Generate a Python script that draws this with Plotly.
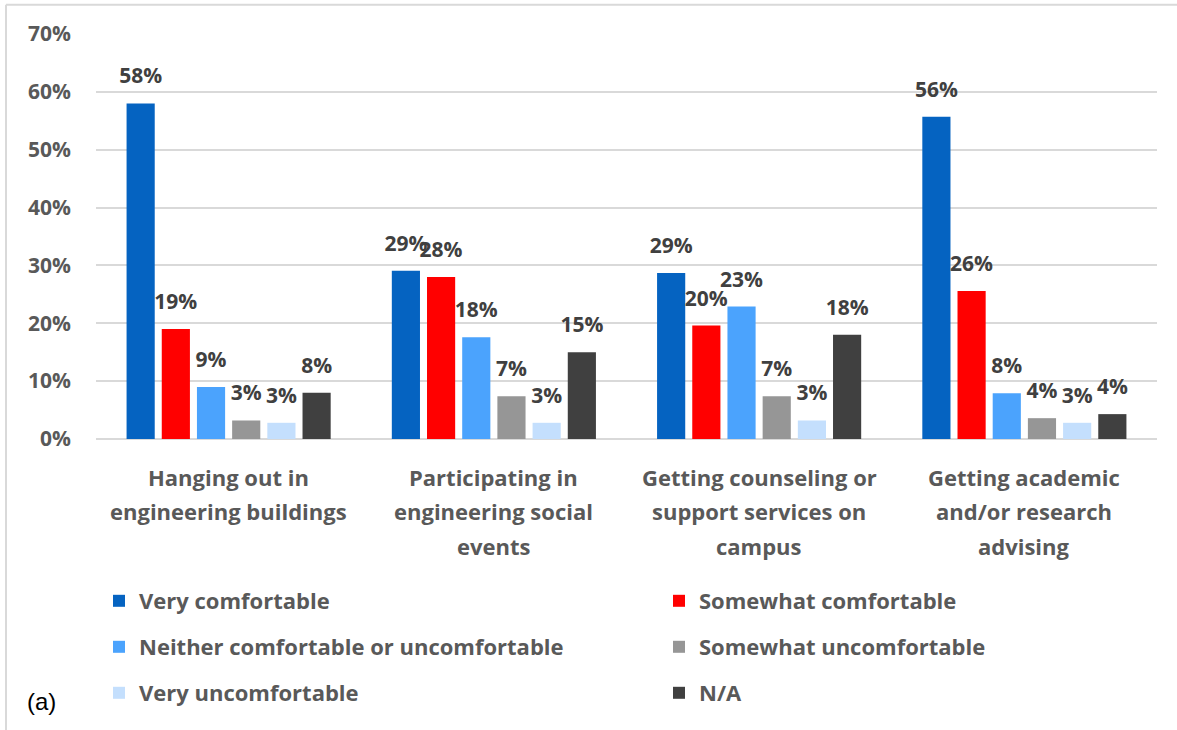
import plotly.graph_objects as go

categories = [
    "Hanging out in engineering buildings",
    "Participating in engineering social events",
    "Getting counseling or support services on campus",
    "Getting academic and/or research advising",
]
category_lines = [
    ["Hanging out in", "engineering buildings"],
    ["Participating in", "engineering social", "events"],
    ["Getting counseling or", "support services on", "campus"],
    ["Getting academic", "and/or research", "advising"],
]
series_names = [
    "Very comfortable",
    "Somewhat comfortable",
    "Neither comfortable or uncomfortable",
    "Somewhat uncomfortable",
    "Very uncomfortable",
    "N/A",
]
very_comfortable = [58.0, 29.1, 28.7, 55.7]
somewhat_comfortable = [19.0, 28.0, 19.6, 25.6]
neither = [9.0, 17.6, 22.9, 7.9]
somewhat_uncomfortable = [3.2, 7.4, 7.4, 3.6]
very_uncomfortable = [2.8, 2.8, 3.2, 2.8]
not_applicable = [8.0, 15.0, 18.0, 4.3]
series_values = [very_comfortable, somewhat_comfortable, neither,
                 somewhat_uncomfortable, very_uncomfortable, not_applicable]
colors = ["#0563C1", "#FF0000", "#4BA3FD", "#969696", "#C4DFFD", "#404040"]

FONT = "Open Sans"
WEIGHT = "bold"
W, H = 1177, 730
L, R, T, B = 96, 20, 34.3, 290.7
PW, PH = W - L - R, H - T - B

fig = go.Figure()
for i, (name, vals, col) in enumerate(zip(series_names, series_values, colors)):
    fig.add_trace(go.Bar(
        x=categories, y=vals, name=name, marker_color=col,
        marker_line_width=0,
        legend="legend" if i == 0 else f"legend{i+1}",
        hoverinfo="skip",
    ))
for i, vals in enumerate(series_values):
    fig.add_trace(go.Scatter(
        x=categories, y=vals, mode="markers+text",
        marker=dict(size=22, color="rgba(0,0,0,0)"),
        texttemplate="%{y:.0f}%", textposition="top center",
        textfont=dict(family=FONT, size=21, color="#404040", weight=WEIGHT),
        showlegend=False, cliponaxis=False, hoverinfo="skip",
    ))

# legends: one per entry, 2 columns x 3 rows
col_x = [99, 659]
row_y = [601, 647, 693]
legends = {}
for i in range(6):
    key = "legend" if i == 0 else f"legend{i+1}"
    legends[key] = dict(
        xref="container", yref="container",
        x=col_x[i % 2] / W, y=1 - row_y[i // 2] / H,
        xanchor="left", yanchor="middle", orientation="h",
        bgcolor="rgba(0,0,0,0)", borderwidth=0,
        font=dict(family=FONT, size=22, color="#595959", weight=WEIGHT),
    )

annotations = []
for cat, lines in zip(categories, category_lines):
    for j, line in enumerate(lines):
        annotations.append(dict(
            x=cat, xref="x", y=0, yref="paper", yanchor="middle",
            yshift=-(37.7 + 34.5 * j), text=line, showarrow=False,
            font=dict(family=FONT, size=22, color="#595959", weight=WEIGHT),
        ))
annotations.append(dict(
    x=(41 - L) / PW, xref="paper", y=(H - B - 702) / PH, yref="paper",
    xanchor="center", yanchor="middle", text="(a)", showarrow=False,
    font=dict(family="Liberation Sans", size=24, color="#000000"),
))

px_x = lambda p: (p - L) / PW
px_y = lambda p: (H - B - p) / PH
shapes = [
    dict(type="line", xref="paper", yref="paper", x0=px_x(6), x1=px_x(1180),
         y0=px_y(5), y1=px_y(5), line=dict(color="#D9D9D9", width=2)),
    dict(type="line", xref="paper", yref="paper", x0=px_x(6), x1=px_x(6),
         y0=px_y(5), y1=px_y(735), line=dict(color="#D9D9D9", width=2)),
]

fig.update_layout(
    width=W, height=H, margin=dict(l=L, r=R, t=T, b=B),
    paper_bgcolor="white", plot_bgcolor="white",
    barmode="group", bargap=0.204, bargroupgap=0.2,
    scattermode="group", scattergap=0.204,
    annotations=annotations, shapes=shapes,
    font=dict(family=FONT, color="#595959"),
    **legends,
)
fig.update_xaxes(showticklabels=False, showgrid=False, showline=False, ticks="")
fig.update_yaxes(
    range=[0, 70], dtick=10, ticksuffix="%", showgrid=True,
    gridcolor="#D9D9D9", gridwidth=1.5, zeroline=True, zerolinecolor="#D9D9D9",
    zerolinewidth=1.5, showline=False, ticks="", ticklabelstandoff=24,
    tickfont=dict(family=FONT, size=21, color="#595959", weight=WEIGHT),
)

fig.write_html(
    "out.html",
    config={"displayModeBar": False},
    post_script="document.body.style.margin='0px';document.body.style.overflow='hidden';",
)
